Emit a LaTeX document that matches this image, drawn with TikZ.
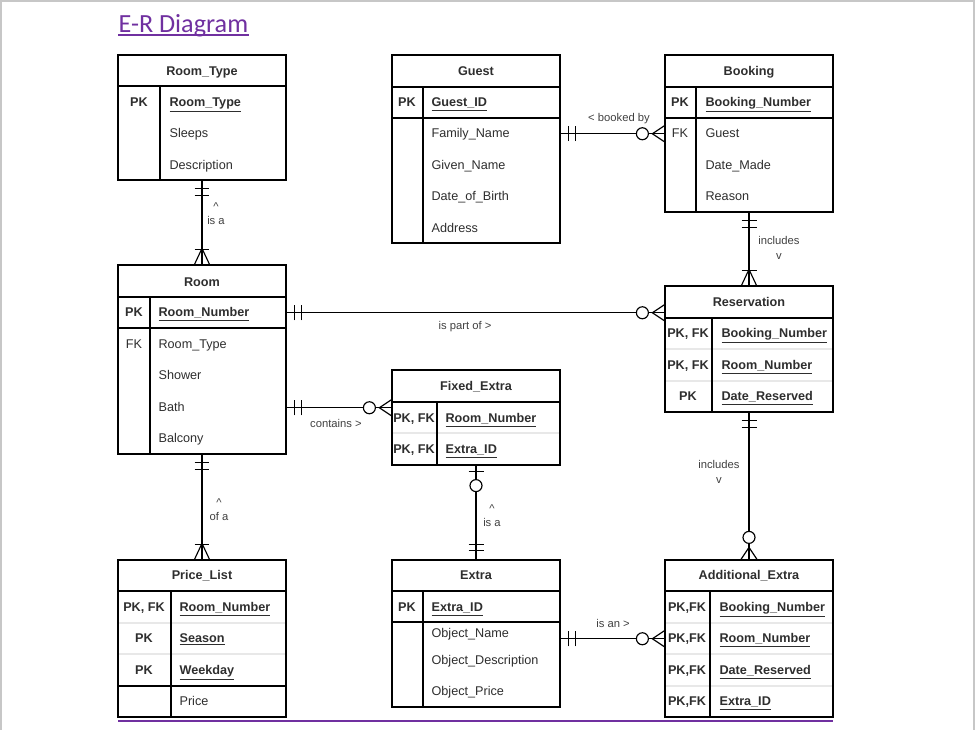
\documentclass[tikz,border=0pt]{standalone}
\usepackage{fontspec}
\setmainfont{Liberation Sans}
\newfontfamily\titlefont{Carlito}
\usepackage{tikz}
\usetikzlibrary{calc, fit, decorations.markings}
\definecolor{titlePurple}{HTML}{7030A0}
\definecolor{textGrey}{HTML}{2E2E2E}
\newcommand{\tblfont}{\fontsize{7.2}{8.6}\selectfont}
\newcommand{\lblfont}{\fontsize{6.4}{8.1}\selectfont}
\tikzset{
    tbl_box/.style={
        rectangle, draw=black, line width=0.7pt, inner sep=0pt
    },
    tbl_line/.style={draw=black, line width=0.7pt},
    tbl_faint/.style={draw=black!9, line width=0.6pt},
    tbl_head/.style={font=\tblfont\bfseries, text=textGrey, inner sep=0pt, anchor=base},
    key_col/.style={font=\tblfont\bfseries, text=textGrey, inner sep=0pt, anchor=base},
    fk_col/.style={font=\tblfont, text=textGrey, inner sep=0pt, anchor=base},
    key_attr/.style={font=\tblfont\bfseries, text=textGrey, inner sep=0pt, anchor=base west,
        text height=0.18cm, text depth=0.05cm},
    attr/.style={font=\tblfont, text=textGrey, inner sep=0pt, anchor=base west,
        text height=0.18cm, text depth=0.05cm},
    rel_lbl/.style={font=\lblfont, text=black!75, align=center, inner sep=0pt},
    one_start/.style={postaction={decorate, decoration={markings,
        mark=at position 0.16cm with {\draw (0pt,-0.15cm) -- (0pt,0.15cm);},
        mark=at position 0.30cm with {\draw (0pt,-0.15cm) -- (0pt,0.15cm);}}}},
    one_end/.style={postaction={decorate, decoration={markings,
        mark=at position -0.30cm with {\draw (0pt,-0.15cm) -- (0pt,0.15cm);},
        mark=at position -0.18cm with {\draw (0pt,-0.15cm) -- (0pt,0.15cm);}}}},
    many_end/.style={postaction={decorate, decoration={markings,
        mark=at position -0.32cm with {\draw (0.32cm,-0.15cm) -- (0pt,0pt) -- (0.32cm,0.15cm);},
        mark=at position -0.30cm with {\draw (0pt,-0.15cm) -- (0pt,0.15cm);}}}},
    zero_many_end/.style={postaction={decorate, decoration={markings,
        mark=at position -0.44cm with {\draw[fill=white] (0pt,0pt) circle (0.12cm);},
        mark=at position -0.24cm with {\draw (0.24cm,-0.16cm) -- (0pt,0pt) -- (0.24cm,0.16cm);}}}},
    zero_one_start/.style={postaction={decorate, decoration={markings,
        mark=at position 0.12cm with {\draw (0pt,-0.15cm) -- (0pt,0.15cm);},
        mark=at position 0.40cm with {\draw[fill=white] (0pt,0pt) circle (0.12cm);}}}}
}

\begin{document}
\begin{tikzpicture}[x=0.02cm, y=-0.02cm, line width=0.65pt]
    \useasboundingbox (0,0) rectangle (975,730);

    % Page frame, title and bottom rule
    \draw[black!22, line width=0.8pt] (1,730) -- (1,1) -- (974,1) -- (974,730);
    \node[anchor=base west, inner sep=0pt, text=titlePurple, font=\titlefont\fontsize{14.9}{17}\selectfont] (title) at (118,32) {E-R Diagram};
    \draw[titlePurple, line width=0.8pt] ($(title.base west)+(0,3)$) -- ($(title.base east)+(0,3)$);
    \draw[titlePurple, line width=1.1pt] (118,721) -- (833,721);

    % Room_Type
    \node[tbl_box, fit={(118,55) (286,180)}] (roomtype) {};
    \node[tbl_head] (rt_title) at (202,75) {Room\_Type};
    \draw[tbl_line] (118,86) -- (286,86);
    \draw[tbl_line] (160,86) -- (160,180);
    \node[key_col] (rt_pk) at (139,106) {PK};
    \node[key_attr] (rt_type) at (169,106) {\underline{Room\_Type}};
    \node[attr] (rt_sleeps) at (169,137) {Sleeps};
    \node[attr] (rt_desc) at (169,169) {Description};

    % Guest
    \node[tbl_box, fit={(392,55) (560,243)}] (guest) {};
    \node[tbl_head] (g_title) at (476,75) {Guest};
    \draw[tbl_line] (392,87) -- (560,87);
    \draw[tbl_line] (392,118) -- (560,118);
    \draw[tbl_line] (423,87) -- (423,243);
    \node[key_col] (g_pk) at (407,106) {PK};
    \node[key_attr] (g_id) at (431,106) {\underline{Guest\_ID}};
    \node[attr] (g_fam) at (431,137) {Family\_Name};
    \node[attr] (g_given) at (431,169) {Given\_Name};
    \node[attr] (g_dob) at (431,200) {Date\_of\_Birth};
    \node[attr] (g_addr) at (431,232) {Address};

    % Booking
    \node[tbl_box, fit={(665,55) (833,212)}] (booking) {};
    \node[tbl_head] (b_title) at (749,75) {Booking};
    \draw[tbl_line] (665,87) -- (833,87);
    \draw[tbl_line] (665,118) -- (833,118);
    \draw[tbl_line] (696,87) -- (696,212);
    \node[key_col] (b_pk) at (680,106) {PK};
    \node[fk_col] (b_fk) at (680,137) {FK};
    \node[key_attr] (b_num) at (705,106) {\underline{Booking\_Number}};
    \node[attr] (b_guest) at (705,137) {Guest};
    \node[attr] (b_made) at (705,169) {Date\_Made};
    \node[attr] (b_reason) at (705,200) {Reason};

    % Room
    \node[tbl_box, fit={(118,265) (286,454)}] (room) {};
    \node[tbl_head] (r_title) at (202,286) {Room};
    \draw[tbl_line] (118,297) -- (286,297);
    \draw[tbl_line] (118,328) -- (286,328);
    \draw[tbl_line] (150,297) -- (150,454);
    \node[key_col] (r_pk) at (134,316) {PK};
    \node[fk_col] (r_fk) at (134,348) {FK};
    \node[key_attr] (r_num) at (158,316) {\underline{Room\_Number}};
    \node[attr] (r_type) at (158,348) {Room\_Type};
    \node[attr] (r_shower) at (158,379) {Shower};
    \node[attr] (r_bath) at (158,411) {Bath};
    \node[attr] (r_balc) at (158,442) {Balcony};

    % Reservation
    \node[tbl_box, fit={(665,286) (833,412)}] (reservation) {};
    \node[tbl_head] (rs_title) at (749,306) {Reservation};
    \draw[tbl_line] (665,318) -- (833,318);
    \draw[tbl_faint] (666,349) -- (832,349);
    \draw[tbl_faint] (666,381) -- (832,381);
    \draw[tbl_line] (712,318) -- (712,412);
    \node[key_col] (rs_k1) at (688,337) {PK, FK};
    \node[key_col] (rs_k2) at (688,369) {PK, FK};
    \node[key_col] (rs_k3) at (688,400) {PK};
    \node[key_attr] (rs_book) at (721,337) {\underline{Booking\_Number}};
    \node[key_attr] (rs_room) at (721,369) {\underline{Room\_Number}};
    \node[key_attr] (rs_date) at (721,400) {\underline{Date\_Reserved}};

    % Fixed_Extra
    \node[tbl_box, fit={(392,370) (560,465)}] (fixedextra) {};
    \node[tbl_head] (fe_title) at (476,390) {Fixed\_Extra};
    \draw[tbl_line] (392,402) -- (560,402);
    \draw[tbl_faint] (393,433) -- (559,433);
    \draw[tbl_line] (437,402) -- (437,465);
    \node[key_col] (fe_k1) at (414,422) {PK, FK};
    \node[key_col] (fe_k2) at (414,453) {PK, FK};
    \node[key_attr] (fe_room) at (445,422) {\underline{Room\_Number}};
    \node[key_attr] (fe_extra) at (445,453) {\underline{Extra\_ID}};

    % Price_List
    \node[tbl_box, fit={(118,560) (286,717)}] (pricelist) {};
    \node[tbl_head] (pl_title) at (202,579) {Price\_List};
    \draw[tbl_line] (118,591) -- (286,591);
    \draw[tbl_faint] (119,623) -- (285,623);
    \draw[tbl_faint] (119,654) -- (285,654);
    \draw[tbl_line] (118,686) -- (286,686);
    \draw[tbl_line] (171,591) -- (171,717);
    \node[key_col] (pl_k1) at (144,611) {PK, FK};
    \node[key_col] (pl_k2) at (144,642) {PK};
    \node[key_col] (pl_k3) at (144,674) {PK};
    \node[key_attr] (pl_room) at (179,611) {\underline{Room\_Number}};
    \node[key_attr] (pl_season) at (179,642) {\underline{Season}};
    \node[key_attr] (pl_day) at (179,674) {\underline{Weekday}};
    \node[attr] (pl_price) at (179,705) {Price};

    % Extra
    \node[tbl_box, fit={(392,560) (560,707)}] (extra) {};
    \node[tbl_head] (e_title) at (476,579) {Extra};
    \draw[tbl_line] (392,591) -- (560,591);
    \draw[tbl_line] (392,622) -- (560,622);
    \draw[tbl_line] (423,591) -- (423,707);
    \node[key_col] (e_pk) at (407,611) {PK};
    \node[key_attr] (e_id) at (431,611) {\underline{Extra\_ID}};
    \node[attr] (e_name) at (431,637) {Object\_Name};
    \node[attr] (e_desc) at (431,664) {Object\_Description};
    \node[attr] (e_price) at (431,695) {Object\_Price};

    % Additional_Extra
    \node[tbl_box, fit={(665,560) (833,717)}] (addextra) {};
    \node[tbl_head] (a_title) at (749,579) {Additional\_Extra};
    \draw[tbl_line] (665,591) -- (833,591);
    \draw[tbl_faint] (666,623) -- (832,623);
    \draw[tbl_faint] (666,654) -- (832,654);
    \draw[tbl_faint] (666,686) -- (832,686);
    \draw[tbl_line] (710,591) -- (710,717);
    \node[key_col] (a_k1) at (687,611) {PK,FK};
    \node[key_col] (a_k2) at (687,642) {PK,FK};
    \node[key_col] (a_k3) at (687,674) {PK,FK};
    \node[key_col] (a_k4) at (687,705) {PK,FK};
    \node[key_attr] (a_book) at (719,611) {\underline{Booking\_Number}};
    \node[key_attr] (a_room) at (719,642) {\underline{Room\_Number}};
    \node[key_attr] (a_date) at (719,674) {\underline{Date\_Reserved}};
    \node[key_attr] (a_extra) at (719,705) {\underline{Extra\_ID}};

    % Relationships (crow's foot ends)
    \draw[one_start, many_end] (roomtype.south) -- (room.north);
    \draw[one_start, zero_many_end] (guest.east |- g_fam) -- (booking.west |- g_fam);
    \draw[one_start, many_end] (booking.south) -- (reservation.north);
    \draw[one_start, zero_many_end] (room.east |- r_num) -- (reservation.west |- r_num);
    \draw[one_start, zero_many_end] (room.east |- r_bath) -- (fixedextra.west |- r_bath);
    \draw[one_start, many_end] (room.south) -- (pricelist.north);
    \draw[zero_one_start, one_end] (fixedextra.south) -- (extra.north);
    \draw[one_start, zero_many_end] (reservation.south) -- (addextra.north);
    \draw[one_start, zero_many_end] (extra.east |- a_room) -- (addextra.west |- a_room);

    % Relationship labels
    \node[rel_lbl] (lb_rt) at (216,214) {\textasciicircum\\is a};
    \node[rel_lbl] (lb_guest) at (619,119) {< booked by};
    \node[rel_lbl] (lb_book) at (779,248) {includes\\v};
    \node[rel_lbl] (lb_part) at (465,327) {is part of >};
    \node[rel_lbl] (lb_cont) at (336,423) {contains >};
    \node[rel_lbl] (lb_price) at (219,510) {\textasciicircum\\of a};
    \node[rel_lbl] (lb_extra) at (492,516) {\textasciicircum\\is a};
    \node[rel_lbl] (lb_res) at (719,472) {includes\\v};
    \node[rel_lbl] (lb_isan) at (613,623) {is an >};
\end{tikzpicture}
\end{document}
